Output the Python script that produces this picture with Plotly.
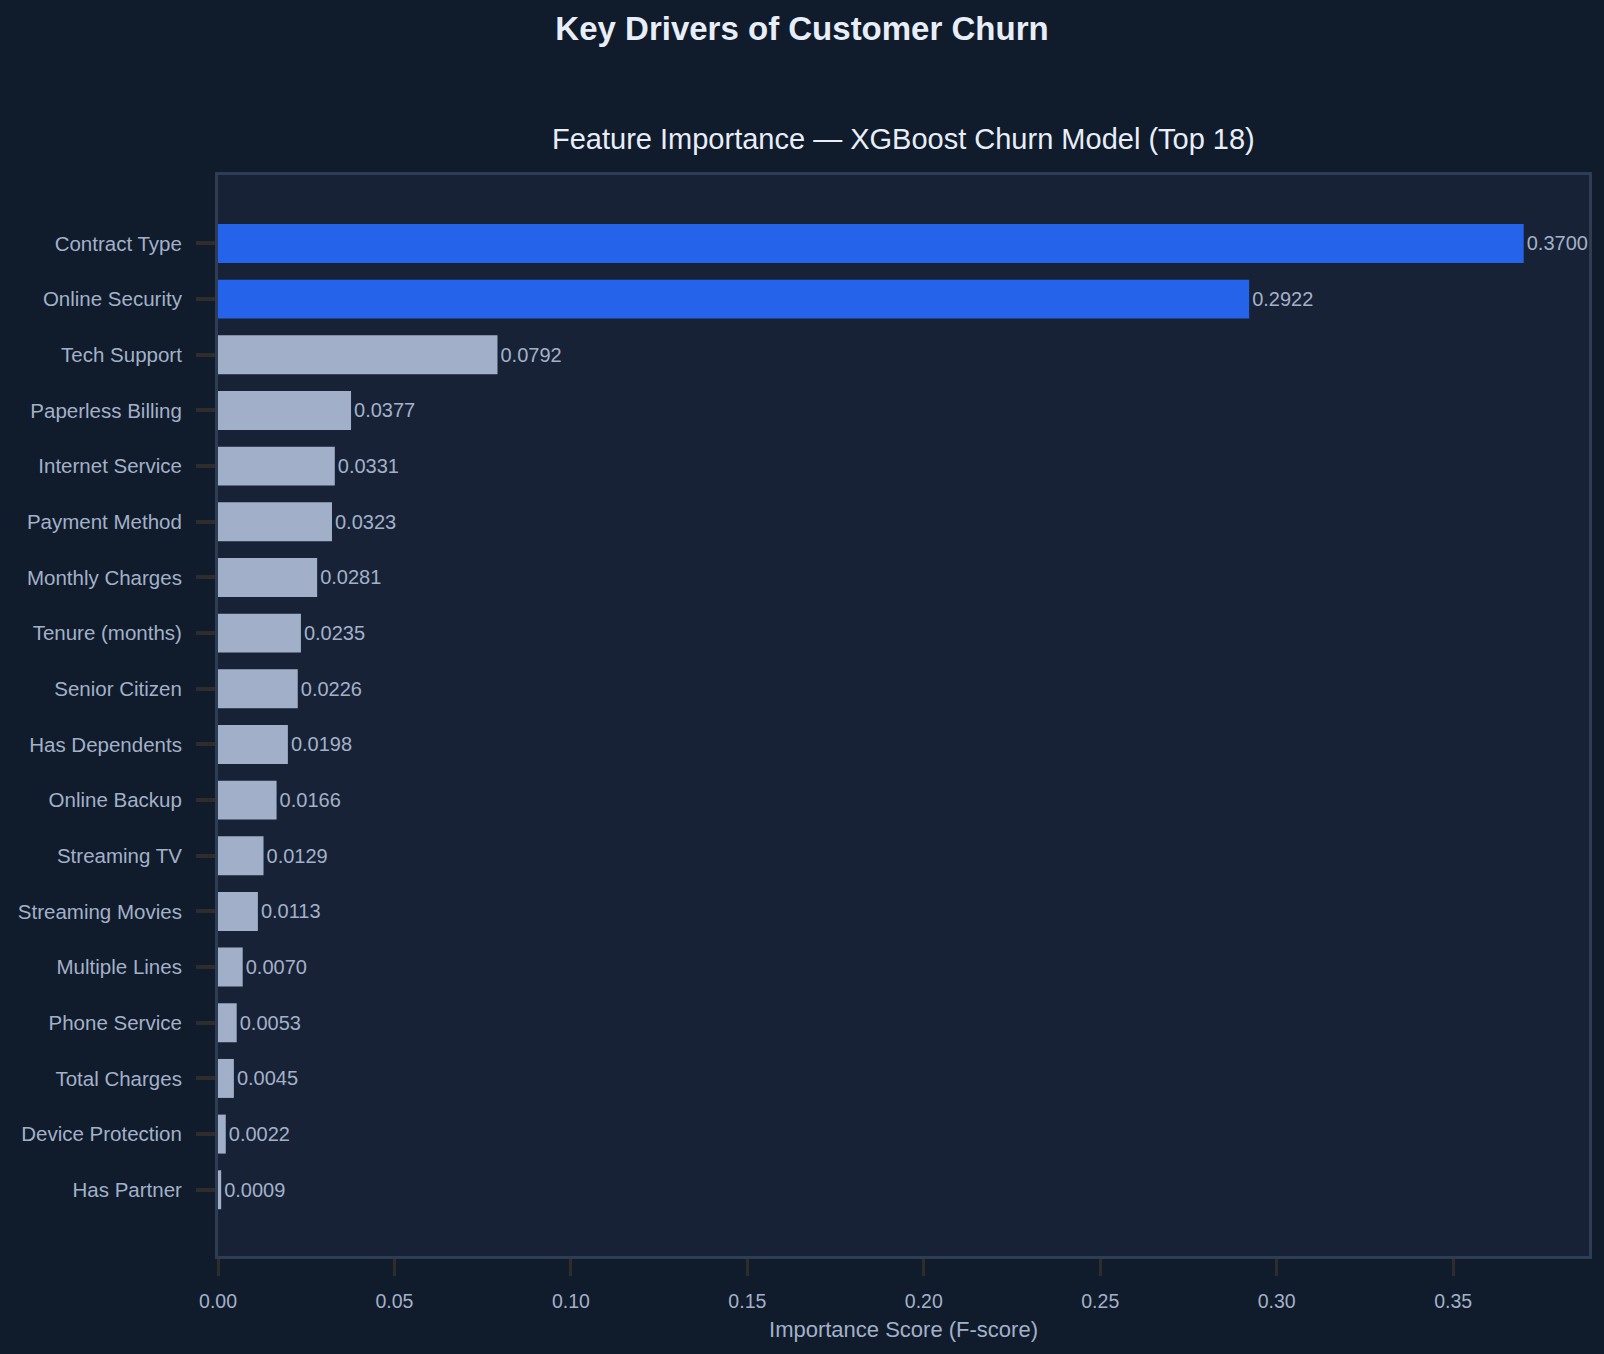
import plotly.graph_objects as go

# feature importances, highest first
features = [
    "Contract Type", "Online Security", "Tech Support", "Paperless Billing",
    "Internet Service", "Payment Method", "Monthly Charges", "Tenure (months)",
    "Senior Citizen", "Has Dependents", "Online Backup", "Streaming TV",
    "Streaming Movies", "Multiple Lines", "Phone Service", "Total Charges",
    "Device Protection", "Has Partner",
]
importance = [
    0.3700, 0.2922, 0.0792, 0.0377, 0.0331, 0.0323, 0.0281, 0.0235,
    0.0226, 0.0198, 0.0166, 0.0129, 0.0113, 0.0070, 0.0053, 0.0045,
    0.0022, 0.0009,
]
x_ticks = [0.00, 0.05, 0.10, 0.15, 0.20, 0.25, 0.30, 0.35]

PAPER = "#101b2c"
PLOT = "#172236"
FRAME = "#2c3d54"
TEXT = "#a3b1c8"
BLUE = "#2563eb"
GREY = "#a1b0c8"
TICK = "#2f2d2b"
FONT = "Liberation Sans, Arial, sans-serif"

colors = [BLUE if i < 2 else GREY for i in range(len(features))]

fig = go.Figure()
fig.add_trace(go.Bar(
    x=importance,
    y=features,
    orientation="h",
    width=0.7,
    marker=dict(color=colors, line=dict(width=0)),
    text=[f"{v:.4f}" for v in importance],
    textposition="outside",
    textfont=dict(color=TEXT, size=20, family=FONT),
    cliponaxis=False,
    hoverinfo="x+y",
))

n = len(features)
fig.update_layout(
    width=1604,
    height=1354,
    paper_bgcolor=PAPER,
    plot_bgcolor=PLOT,
    margin=dict(l=218, r=15, t=175, b=98),
    showlegend=False,
    font=dict(family=FONT, color=TEXT, size=20),
    title=dict(
        text="<b>Key Drivers of Customer Churn</b>",
        x=0.5, xanchor="center", y=0.979, yanchor="middle",
        font=dict(size=33, color="#e8eef8"),
    ),
    annotations=[dict(
        text="Feature Importance — XGBoost Churn Model (Top 18)",
        xref="paper", yref="paper", x=0.5, y=1.0, yanchor="bottom",
        yshift=18, showarrow=False,
        font=dict(size=29, color="#e8eef8"),
    )],
)
fig.update_xaxes(
    range=[0, 0.3885],
    tickvals=x_ticks,
    ticktext=[f"{t:.2f}" for t in x_ticks],
    ticks="outside", ticklen=17, tickwidth=3, tickcolor=TICK,
    ticklabelstandoff=9,
    showgrid=False, zeroline=False,
    showline=True, mirror=True, linecolor=FRAME, linewidth=3,
    tickfont=dict(size=19.5, color=TEXT),
    title=dict(text="Importance Score (F-score)", standoff=11,
               font=dict(size=22, color=TEXT)),
)
fig.update_yaxes(
    range=[n - 1 + 1.19, -1.23],
    ticks="outside", ticklen=19, tickwidth=3.5, tickcolor=TICK,
    ticklabelstandoff=10,
    showgrid=False, zeroline=False,
    showline=True, mirror=True, linecolor=FRAME, linewidth=3,
    tickfont=dict(size=20.5, color=TEXT),
)

fig.write_html(
    "out.html",
    config={"displayModeBar": False},
    post_script="document.body.style.margin='0';"
                "document.body.style.background='#101b2c';",
)
